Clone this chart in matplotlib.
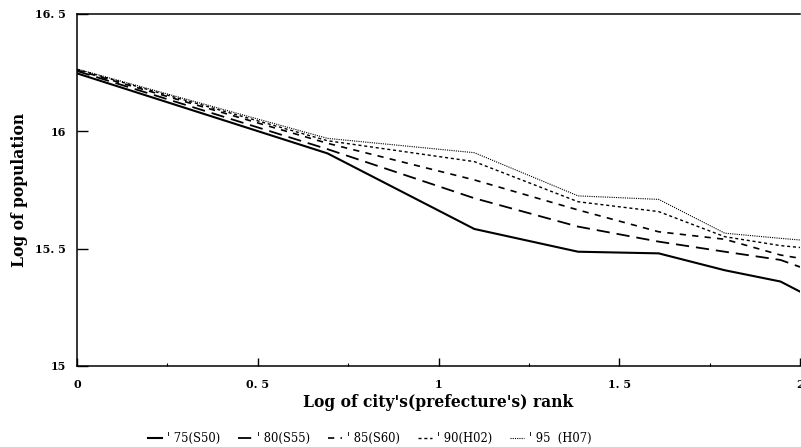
import matplotlib
matplotlib.use("Agg")
import matplotlib.pyplot as plt
from matplotlib.ticker import FixedLocator

# log of rank (ranks 1..7, the line runs on to the axis edge at 2)
log_rank = [0.0, 0.693, 1.099, 1.386, 1.609, 1.792, 1.946, 2.0]

pop_75 = [16.247, 15.906, 15.584, 15.487, 15.480, 15.408, 15.360, 15.317]
pop_80 = [16.257, 15.924, 15.715, 15.594, 15.530, 15.487, 15.452, 15.422]
pop_85 = [16.261, 15.949, 15.793, 15.665, 15.572, 15.540, 15.473, 15.459]
pop_90 = [16.264, 15.960, 15.871, 15.700, 15.658, 15.551, 15.513, 15.505]
pop_95 = [16.266, 15.970, 15.909, 15.725, 15.710, 15.566, 15.544, 15.537]

labels = ["' 75(S50)", "' 80(S55)", "' 85(S60)", "' 90(H02)", "' 95  (H07)"]

xticks = [0, 0.5, 1, 1.5, 2]
xticklabels = ["0", "0. 5", "1", "1. 5", "2"]
yticks = [15, 15.5, 16, 16.5]
yticklabels = ["15", "15. 5", "16", "16. 5"]

plt.rcParams["lines.scale_dashes"] = False
plt.rcParams["font.family"] = ["DejaVu Serif"]

fig = plt.figure(figsize=(8.01, 4.47), dpi=100)
ax = fig.add_axes([77 / 801, 81 / 447, 723 / 801, 352 / 447])

ax.plot(log_rank, pop_75, color="black", lw=1.5, ls="-", label=labels[0])
ax.plot(log_rank, pop_80, color="black", lw=1.3, dashes=(9.5, 5), label=labels[1])
ax.plot(log_rank, pop_85, color="black", lw=1.2, dashes=(4.5, 4.5), label=labels[2])
ax.plot(log_rank, pop_90, color="black", lw=1.0, dashes=(2.2, 2.0), label=labels[3])
ax.plot(log_rank, pop_95, color="black", lw=0.8, dashes=(0.8, 0.8), label=labels[4])

ax.set_xlim(0, 2)
ax.set_ylim(15, 16.5)
ax.set_xticks(xticks)
ax.set_xticklabels(xticklabels)
ax.xaxis.set_minor_locator(FixedLocator([0.25, 0.75, 1.25, 1.75]))
ax.set_yticks(yticks)
ax.set_yticklabels(yticklabels)

ax.tick_params(axis="x", which="major", direction="in", length=5.5, width=1.0,
               labelsize=8, pad=9)
ax.tick_params(axis="x", which="minor", direction="in", length=2.5, width=0.8)
ax.tick_params(axis="y", which="major", direction="in", length=8, width=1.0,
               labelsize=8, pad=8)
for t in ax.get_xticklabels() + ax.get_yticklabels():
    t.set_fontweight("bold")

for side in ["left", "bottom", "top"]:
    ax.spines[side].set_linewidth(1.1)
ax.spines["right"].set_visible(False)

ax.set_xlabel("Log of city's(prefecture's) rank", fontsize=11.2,
              fontweight="bold", labelpad=3)
ax.set_ylabel("Log of population", fontsize=11.2, fontweight="bold", labelpad=5)

leg = ax.legend(loc="upper center", bbox_to_anchor=(0.405, -0.175), ncol=5,
                frameon=False, fontsize=8.3, handlelength=1.2, handletextpad=0.4,
                columnspacing=1.6, borderaxespad=0)

fig.savefig("out.png", dpi=100)
